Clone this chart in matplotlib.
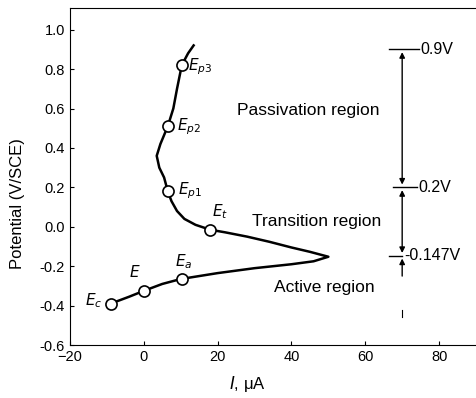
import matplotlib.pyplot as plt
import numpy as np

plt.rcParams['font.family'] = ['Liberation Sans', 'DejaVu Sans']

# Curva de polarizacao: ramo inferior ate o pico e volta pelo ramo superior
corrente = [-9, -4, 0, 5, 10, 15, 20, 30, 40, 46, 50,
            45, 40, 34, 28, 22, 18, 14, 11, 9, 7.5, 6.5,
            5.5, 4.2, 3.5, 4.5, 6.5, 8, 9, 10.3, 12, 13.5]
potencial = [-0.39, -0.355, -0.325, -0.29, -0.265, -0.25, -0.235, -0.21, -0.19, -0.175, -0.152,
             -0.127, -0.105, -0.076, -0.05, -0.028, -0.015, 0.01, 0.04, 0.08, 0.13, 0.18,
             0.25, 0.3, 0.36, 0.42, 0.51, 0.6, 0.7, 0.82, 0.88, 0.92]

# Pontos marcados
pontos_i = [-9, 0, 10.3, 18, 6.5, 6.5, 10.3]
pontos_e = [-0.39, -0.325, -0.265, -0.015, 0.18, 0.51, 0.82]
rotulos = ['$E_c$', '$E$', '$E_a$', '$E_t$', '$E_{p1}$', '$E_{p2}$', '$E_{p3}$']
rot_i = [-16, -4, 8.5, 18.5, 9.2, 9.0, 11.9]
rot_e = [-0.375, -0.23, -0.175, 0.075, 0.185, 0.51, 0.81]

niveis = [0.9, 0.2, -0.147]
niveis_txt = ['0.9V', '0.2V', '-0.147V']
regioes = ['Passivation region', 'Transition region', 'Active region']
regioes_pos = [(44.6, 0.59), (46.8, 0.025), (49, -0.31)]

fig = plt.figure(figsize=(4.76, 3.98), dpi=100)
ax = fig.add_axes([0.147, 0.133, 0.853, 0.847])

ax.plot(corrente, potencial, color='black', linewidth=1.8)
ax.plot(pontos_i, pontos_e, 'o', markersize=8, markerfacecolor='white',
        markeredgecolor='black', markeredgewidth=1.2)
for x, y, t in zip(rot_i, rot_e, rotulos):
    ax.text(x, y, t, fontsize=11, ha='left', va='center', family='DejaVu Sans')

# Escala de regioes a direita
xv = 70
seta = dict(arrowstyle='<|-|>', color='black', lw=1, mutation_scale=8, shrinkA=2, shrinkB=2)
ax.annotate('', xy=(xv, niveis[0]), xytext=(xv, niveis[1]), arrowprops=seta)
ax.annotate('', xy=(xv, niveis[1]), xytext=(xv, niveis[2]), arrowprops=seta)
ax.annotate('', xy=(xv, niveis[2]), xytext=(xv, -0.25),
            arrowprops=dict(arrowstyle='-|>', color='black', lw=1, mutation_scale=8,
                            shrinkA=0, shrinkB=2))
ax.plot([xv, xv], [-0.42, -0.46], color='black', linewidth=0.8)
ax.plot([xv - 3.5, xv + 4.5], [niveis[0], niveis[0]], color='black', linewidth=1)
ax.plot([xv - 2.5, xv + 4], [niveis[1], niveis[1]], color='black', linewidth=1)
ax.plot([xv - 3.5, xv], [niveis[2], niveis[2]], color='black', linewidth=1)
for n, t, dx in zip(niveis, niveis_txt, [5, 4.5, 0.5]):
    ax.text(xv + dx, n, t, fontsize=11.5, ha='left', va='center')
for t, (x, y) in zip(regioes, regioes_pos):
    ax.text(x, y, t, fontsize=12.5, ha='center', va='center')

ax.set_xlim(-20, 90)
ax.set_ylim(-0.6, 1.11)
ax.set_xticks([-20, 0, 20, 40, 60, 80])
ax.set_yticks([-0.6, -0.4, -0.2, 0.0, 0.2, 0.4, 0.6, 0.8, 1.0])
ax.set_yticklabels(['-0.6', '-0.4', '-0.2', '0.0', '0.2', '0.4', '0.6', '0.8', '1.0'])
ax.tick_params(direction='in', length=3, labelsize=10.5)
ax.spines['right'].set_visible(False)
ax.set_xlabel('$I$, μA', fontsize=12)
ax.set_ylabel('Potential (V/SCE)', fontsize=12)
ax.xaxis.set_label_coords(0.438, -0.085)
ax.yaxis.set_label_coords(-0.11, 0.42)

plt.savefig('out.png', dpi=100)
